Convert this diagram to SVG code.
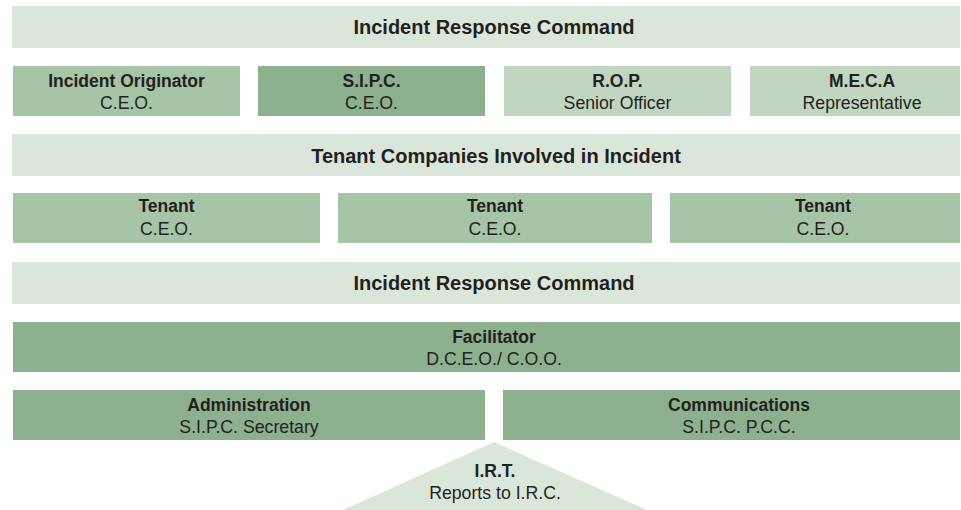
<svg xmlns="http://www.w3.org/2000/svg" width="961" height="510" viewBox="0 0 961 510">
<style>
text{font-family:"Liberation Sans",Arial,sans-serif;fill:#231f20;text-anchor:middle}
.t{font-size:20px;font-weight:bold}
.b{font-size:17.5px;font-weight:bold}
.r{font-size:17.7px}
.l{fill:#dbe6db}
.m{fill:#a6c4a6}
.d{fill:#8db18e}
.p{fill:#c0d6c0}
</style>
<rect width="961" height="510" fill="#ffffff"/>
<g id="irc1"><rect class="l" x="12" y="6" width="948" height="42"/><text class="t" x="494" y="34">Incident Response Command</text></g>
<g id="originator"><rect class="m" x="13" y="66" width="227" height="50"/><text class="b" x="126.5" y="87">Incident Originator</text><text class="r" x="126.5" y="109">C.E.O.</text></g>
<g id="sipc"><rect class="d" x="258" y="66" width="227" height="50"/><text class="b" x="371.5" y="87">S.I.P.C.</text><text class="r" x="371.5" y="109">C.E.O.</text></g>
<g id="rop"><rect class="p" x="504" y="66" width="227" height="50"/><text class="b" x="617.5" y="87">R.O.P.</text><text class="r" x="617.5" y="109">Senior Officer</text></g>
<g id="meca"><rect class="p" x="750" y="66" width="210" height="50"/><text class="b" x="862" y="87">M.E.C.A</text><text class="r" x="862" y="109">Representative</text></g>
<g id="tenants"><rect class="l" x="12" y="134" width="948" height="42"/><text class="t" x="496" y="163">Tenant Companies Involved in Incident</text></g>
<g id="tenant1"><rect class="m" x="13" y="193" width="307" height="50"/><text class="b" x="166.5" y="212">Tenant</text><text class="r" x="166.5" y="235">C.E.O.</text></g>
<g id="tenant2"><rect class="m" x="338" y="193" width="314" height="50"/><text class="b" x="495" y="212">Tenant</text><text class="r" x="495" y="235">C.E.O.</text></g>
<g id="tenant3"><rect class="m" x="670" y="193" width="290" height="50"/><text class="b" x="823" y="212">Tenant</text><text class="r" x="823" y="235">C.E.O.</text></g>
<g id="irc2"><rect class="l" x="12" y="262" width="948" height="42"/><text class="t" x="494" y="290">Incident Response Command</text></g>
<g id="facilitator"><rect class="d" x="13" y="322" width="947" height="50"/><text class="b" x="494" y="343">Facilitator</text><text class="r" x="494" y="365">D.C.E.O./ C.O.O.</text></g>
<g id="administration"><rect class="d" x="13" y="390" width="472" height="50"/><text class="b" x="249" y="411">Administration</text><text class="r" x="249" y="433">S.I.P.C. Secretary</text></g>
<g id="communications"><rect class="d" x="503" y="390" width="457" height="50"/><text class="b" x="739" y="411">Communications</text><text class="r" x="739" y="433">S.I.P.C. P.C.C.</text></g>
<g id="irt"><polygon class="l" points="494,442 343,510 647,510"/><text class="b" x="495" y="477">I.R.T.</text><text class="r" x="495" y="499">Reports to I.R.C.</text></g>
<g id="connectors"></g>
</svg>
